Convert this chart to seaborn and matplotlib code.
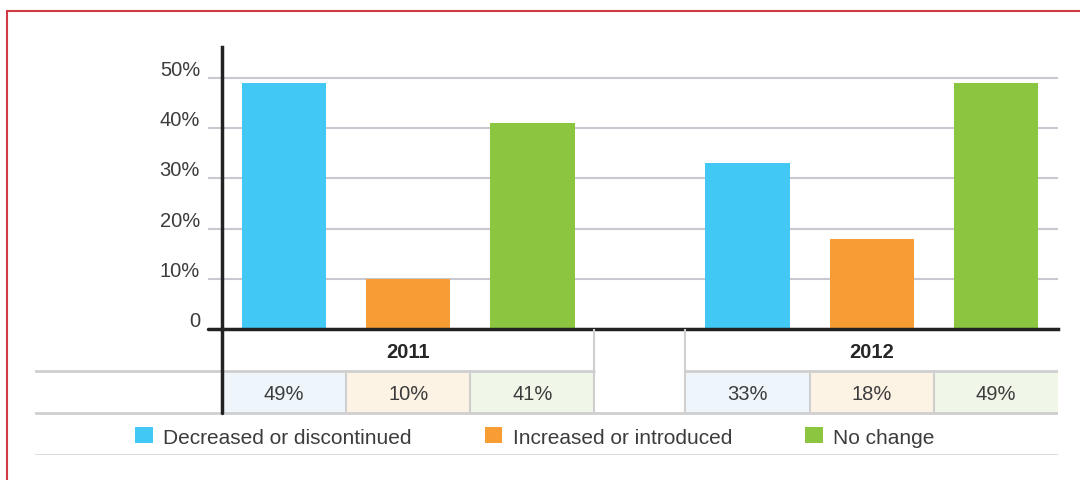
import pandas as pd
import seaborn as sns
import matplotlib
matplotlib.use("Agg")
from matplotlib import pyplot as plt
from matplotlib.patches import Rectangle, Patch
from matplotlib.transforms import ScaledTranslation

# data
years = ['2011', '2012']
changes = ['Decreased or discontinued', 'Increased or introduced', 'No change']
share_2011 = [49, 10, 41]
share_2012 = [33, 18, 49]
bar_colors = ['#41c8f4', '#f89d33', '#8cc640']
cell_colors = ['#eef6fc', '#fdf3e5', '#f0f6e8']
yticks = [0, 10, 20, 30, 40, 50]
ytick_labels = ['0', '10%', '20%', '30%', '40%', '50%']

sns.set_style('white')
plt.rcParams['font.family'] = ['Liberation Sans', 'DejaVu Sans']

W, H = 1080, 481
gap = 0.733          # empty column between the two years, in bar slots
unit_px = 124.2      # one bar slot in pixels
text_col = '#3c3c3c'
line_col = '#cfcfcf'
dark = '#222222'

rows = []
for g, (yr, vals) in enumerate(zip(years, [share_2011, share_2012])):
    for i, (ch, v) in enumerate(zip(changes, vals)):
        rows.append({'year': yr, 'change': ch, 'share': v, 'pos': g * (3 + gap) + i})
df = pd.DataFrame(rows)
xmax = 2 * 3 + gap - 0.5

fig = plt.figure(figsize=(W / 100, H / 100), dpi=100)

# bars
ax_w = 1058 - 222
ax = fig.add_axes([222 / W, (H - 330) / H, ax_w / W, 282 / H])
sns.barplot(data=df, x='pos', y='share', hue='change', hue_order=changes,
            palette=dict(zip(changes, bar_colors)), native_scale=True,
            dodge=False, width=0.68, saturation=1, linewidth=0,
            legend=False, ax=ax)
ax.set_xlim(-0.5, xmax)
ax.set_ylim(0, 282 / 5.02)
ax.set_xlabel('')
ax.set_ylabel('')
ax.set_xticks([])
ax.set_yticks(yticks)
ax.set_yticklabels(ytick_labels)
ax.yaxis.grid(True, color='#c8c8d0', lw=1.5)
ax.set_axisbelow(True)
for s in ['top', 'right']:
    ax.spines[s].set_visible(False)
for s in ['left', 'bottom']:
    ax.spines[s].set_color(dark)
    ax.spines[s].set_linewidth(2.5)
    ax.spines[s].set_zorder(5)
ax.tick_params(axis='y', left=True, length=10, width=1.5, color='#c8c8d0',
               pad=5.8, labelsize=14.5, labelcolor=text_col)
# dark stub of the zero line left of the axis
ax.axhline(0, xmin=-14 / ax_w, xmax=0, color=dark, lw=2.5, clip_on=False, zorder=6)
off = ScaledTranslation(0, 0.03, fig.dpi_scale_trans)
for lbl in ax.get_yticklabels():
    lbl.set_verticalalignment('baseline')
    lbl.set_transform(lbl.get_transform() + off)

# data table below the bars
tab = fig.add_axes([35 / W, (H - 456) / H, (1058 - 35) / W, 126 / H])
tab.set_xlim(-0.5 - 187 / unit_px, xmax)
tab.set_ylim(0, 3)
tab.axis('off')
left = -0.5 - 187 / unit_px
for _, r in df.iterrows():
    i = changes.index(r['change'])
    tab.add_patch(Rectangle((r['pos'] - 0.5, 1), 1, 1, facecolor=cell_colors[i],
                            edgecolor='none'))
    if i > 0:
        tab.plot([r['pos'] - 0.5] * 2, [1, 2], color=line_col, lw=1.5)
    tab.text(r['pos'], 1.47, f"{r['share']}%", ha='center', va='center',
             fontsize=14.5, color=text_col)
for g, yr in enumerate(years):
    tab.text(g * (3 + gap) + 1, 2.47, yr, ha='center', va='center',
             fontsize=14.5, fontweight='bold', color='#262626')
tab.plot([left, 2.5], [2, 2], color=line_col, lw=2)
tab.plot([3 + gap - 0.5, xmax], [2, 2], color=line_col, lw=2)
tab.plot([2.5, 2.5], [1, 3], color=line_col, lw=1.5)
tab.plot([3 + gap - 0.5] * 2, [1, 3], color=line_col, lw=1.5)
tab.plot([left, xmax], [1, 1], color=line_col, lw=2)
tab.plot([left, xmax], [0, 0], color='#d8d8d8', lw=2)
tab.plot([-0.5, -0.5], [1, 3], color=dark, lw=2.5, zorder=5)

# legend
handles = [Patch(facecolor=c, edgecolor='none', label=l) for c, l in zip(bar_colors, changes)]
fig.legend(handles=handles, loc='center left', bbox_to_anchor=(135 / W, (H - 438) / H),
           ncol=3, frameon=False, fontsize=15, labelcolor=text_col,
           handlelength=0.85, handleheight=0.8, handletextpad=0.5,
           columnspacing=3.5, borderpad=0, borderaxespad=0)

# red frame
fig.add_artist(Rectangle((7 / W, -0.5), 2, 1.5 - 12 / H, transform=fig.transFigure,
                         fill=False, edgecolor='#cf3a44', lw=1.5))

fig.savefig('out.png', dpi=100)
